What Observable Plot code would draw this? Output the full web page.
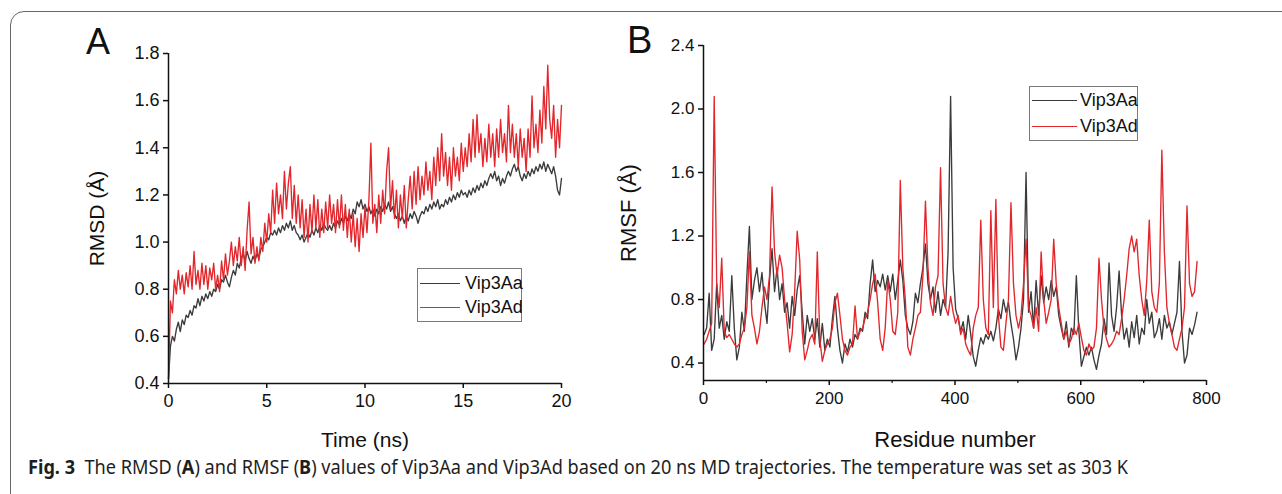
<!DOCTYPE html>
<html><head><meta charset="utf-8">
<script src="https://cdn.jsdelivr.net/npm/d3@7"></script>
<script src="https://cdn.jsdelivr.net/npm/@observablehq/plot@0.6"></script>
<style>
html,body{margin:0;padding:0;background:#fff;}
#fig{position:relative;width:1282px;height:494px;overflow:hidden;background:#fff;font-family:"Liberation Sans",Arial,sans-serif;color:#111;}
#frame{position:absolute;left:10px;top:11px;width:1400px;height:600px;border:1.5px solid #666;border-top-left-radius:14px;box-sizing:border-box;}
.panel{position:absolute;top:0;}
.plabel{position:absolute;font-family:"Liberation Sans",Arial,sans-serif;}
.legend{position:absolute;border:1px solid #7a7a7a;background:#fff;box-sizing:border-box;}
.lrow{position:absolute;left:2px;height:24px;display:flex;align-items:center;font-size:18px;white-space:nowrap;}
.lrow .sw{display:inline-block;height:0;border-top:1.5px solid;}
#caption{position:absolute;left:28px;top:456px;white-space:nowrap;font-family:"Noto Sans","Open Sans",sans-serif;font-size:19px;line-height:22px;transform-origin:0 50%;color:#1e1e1e;}
</style></head>
<body>
<div id="fig">
  <div id="frame"></div>
  <div id="panelA" class="panel" style="left:0"></div>
  <div id="panelB" class="panel" style="left:600px"></div>
  <div class="plabel" style="left:86px;top:24px;font-size:36px;line-height:36px">A</div>
  <div class="plabel" style="left:627px;top:21px;font-size:38px;line-height:38px">B</div>
  <div id="legA" class="legend" style="left:417px;top:268px;width:105px;height:54px"></div>
  <div id="legB" class="legend" style="left:1029px;top:86px;width:109px;height:55px"></div>
  <div id="caption"><b>Fig. 3</b>&nbsp;&nbsp;The RMSD (<b>A</b>) and RMSF (<b>B</b>) values of Vip3Aa and Vip3Ad based on 20 ns MD trajectories. The temperature was set as 303 K</div>
</div>
<script>
// ---------- data ----------
const seriesNames = ["Vip3Aa", "Vip3Ad"];
const seriesColors = ["#3b3b3b", "#e3262b"];

// Panel A: RMSD (Å) vs time (ns), sampled every 0.1 ns from 0 to 20 ns
const timeStep = 0.1;
const rmsdAa = [
 0.42,0.56,0.60,0.58,0.63,0.66,0.62,0.67,0.65,0.69,
 0.68,0.71,0.69,0.73,0.72,0.76,0.73,0.77,0.75,0.78,
 0.76,0.79,0.77,0.80,0.79,0.82,0.80,0.84,0.83,0.86,
 0.83,0.81,0.85,0.88,0.86,0.91,0.89,0.93,0.95,0.92,
 0.96,0.93,0.91,0.94,0.92,0.95,0.93,0.97,0.98,1.00,
 1.02,1.01,1.04,1.03,1.05,1.03,1.06,1.04,1.07,1.05,
 1.08,1.06,1.09,1.05,1.07,1.04,1.03,1.01,1.03,1.00,
 1.02,1.04,1.02,1.05,1.03,1.06,1.04,1.07,1.05,1.08,
 1.06,1.05,1.07,1.05,1.08,1.06,1.09,1.07,1.10,1.08,
 1.11,1.09,1.12,1.10,1.14,1.12,1.17,1.15,1.18,1.14,
 1.16,1.13,1.15,1.12,1.14,1.11,1.14,1.12,1.15,1.13,
 1.16,1.14,1.17,1.13,1.15,1.12,1.10,1.12,1.09,1.11,
 1.08,1.11,1.09,1.12,1.10,1.13,1.11,1.08,1.11,1.13,
 1.12,1.15,1.13,1.16,1.14,1.17,1.15,1.18,1.14,1.16,
 1.15,1.18,1.16,1.19,1.17,1.20,1.18,1.21,1.19,1.22,
 1.20,1.21,1.19,1.22,1.20,1.23,1.21,1.24,1.22,1.25,
 1.23,1.26,1.24,1.27,1.29,1.27,1.30,1.26,1.28,1.24,
 1.27,1.25,1.28,1.30,1.28,1.31,1.33,1.30,1.32,1.28,
 1.26,1.29,1.27,1.30,1.28,1.31,1.29,1.32,1.30,1.33,
 1.31,1.34,1.30,1.33,1.31,1.29,1.32,1.28,1.22,1.20,
 1.27];
const rmsdAd = [
 0.42,0.75,0.70,0.84,0.78,0.88,0.80,0.86,0.78,0.87,
 0.81,0.90,0.80,0.96,0.82,0.88,0.80,0.91,0.82,0.90,
 0.80,0.89,0.84,0.91,0.80,0.86,0.79,0.92,0.84,0.95,
 0.86,0.92,1.00,0.90,0.98,0.92,1.02,0.90,0.98,0.88,
 1.05,1.17,0.95,1.02,0.91,0.98,0.92,1.02,0.96,1.08,
 1.00,1.12,1.04,1.22,1.08,1.25,1.12,1.20,1.10,1.30,
 1.14,1.25,1.32,1.10,1.24,1.08,1.20,1.06,1.18,1.02,
 1.14,1.00,1.16,1.04,1.20,1.06,1.18,1.02,1.14,1.04,
 1.17,1.06,1.20,1.08,1.16,1.04,1.18,1.06,1.20,1.05,
 1.16,1.02,1.14,1.00,1.12,0.98,1.10,0.96,1.12,1.02,
 1.15,1.04,1.18,1.42,1.08,1.16,1.04,1.20,1.08,1.22,
 1.12,1.30,1.40,1.14,1.26,1.10,1.22,1.06,1.20,1.10,
 1.24,1.06,1.18,1.28,1.14,1.30,1.16,1.32,1.18,1.28,
 1.20,1.34,1.22,1.30,1.18,1.36,1.24,1.40,1.26,1.46,
 1.28,1.38,1.24,1.36,1.22,1.40,1.28,1.36,1.26,1.42,
 1.30,1.40,1.32,1.46,1.34,1.52,1.36,1.54,1.38,1.46,
 1.32,1.44,1.34,1.50,1.36,1.46,1.32,1.48,1.36,1.52,
 1.38,1.46,1.34,1.58,1.38,1.50,1.36,1.46,1.32,1.48,
 1.36,1.44,1.30,1.48,1.36,1.62,1.40,1.50,1.38,1.56,
 1.42,1.66,1.48,1.75,1.52,1.44,1.58,1.36,1.52,1.40,
 1.58];

// Panel B: RMSF (Å) vs residue number, sampled every 4 residues from residue 1 to 785
const residueStart = 1, residueStep = 4;
const rmsfAa = [
 0.58,0.62,0.84,0.48,0.55,0.90,0.62,0.70,0.55,0.66,
 0.60,0.95,0.62,0.42,0.50,0.72,0.60,0.95,1.26,0.80,
 0.92,1.00,0.85,0.97,0.78,0.65,0.92,1.12,0.85,1.00,
 0.80,0.90,0.72,0.78,0.62,0.82,0.70,0.86,0.95,0.72,
 0.52,0.70,0.60,0.68,0.55,0.68,0.50,0.65,0.48,0.55,
 0.50,0.68,0.82,0.62,0.48,0.40,0.52,0.47,0.55,0.50,
 0.58,0.55,0.62,0.60,0.72,0.68,0.90,1.05,0.85,0.92,
 0.88,0.96,0.86,0.95,0.85,0.96,0.80,0.92,1.05,0.92,
 0.70,0.62,0.58,0.66,0.84,0.78,0.90,1.00,1.15,0.90,
 0.80,0.88,0.72,0.85,0.70,0.80,0.75,1.10,2.08,1.00,
 0.74,0.68,0.60,0.66,0.55,0.70,0.58,0.44,0.38,0.48,
 0.56,0.52,0.58,0.55,0.60,0.54,0.62,0.74,0.68,0.80,
 0.72,0.78,0.65,0.55,0.42,0.50,0.62,0.80,1.60,0.72,
 0.85,0.62,0.92,0.70,0.95,0.78,0.88,0.80,0.92,0.82,
 0.88,0.70,0.62,0.55,0.66,0.50,0.62,0.58,0.95,0.60,
 0.38,0.44,0.50,0.45,0.50,0.42,0.36,0.45,0.52,0.68,
 0.58,1.03,0.70,0.60,0.75,0.98,0.70,0.55,0.62,0.50,
 0.66,0.56,0.70,0.52,0.62,0.58,0.80,0.65,0.72,0.56,
 0.60,0.68,0.55,0.70,0.62,0.66,0.58,0.65,0.72,1.04,
 0.60,0.40,0.45,0.62,0.58,0.64,0.72];
const rmsfAd = [
 0.52,0.55,0.60,0.65,2.08,0.90,0.75,1.06,0.60,0.56,
 0.58,0.55,0.52,0.50,0.52,0.58,0.62,0.75,1.10,0.70,
 0.62,0.52,0.60,0.75,0.88,0.80,0.95,1.51,1.10,0.95,
 1.08,1.00,0.80,0.65,0.47,0.58,0.85,1.23,1.05,0.60,
 0.42,0.48,0.55,0.58,0.52,1.10,0.55,0.41,0.48,0.52,
 0.55,0.62,0.78,0.84,0.70,0.55,0.48,0.45,0.50,0.52,
 0.76,0.55,0.60,0.62,0.68,0.72,0.80,0.90,0.96,0.78,
 0.55,0.48,0.62,0.92,0.80,0.60,0.58,0.72,1.55,1.00,
 0.80,0.50,0.45,0.55,0.62,0.70,0.72,0.95,1.42,1.00,
 0.78,0.70,0.88,0.95,1.63,0.90,0.75,0.70,0.82,0.72,
 0.65,0.70,0.58,0.62,0.52,0.48,0.45,0.62,0.70,0.75,
 1.30,0.80,0.62,0.58,1.36,0.75,1.43,0.70,0.50,0.48,
 0.65,0.80,1.41,0.90,0.70,0.62,0.70,0.90,1.18,0.75,
 0.70,0.62,0.75,0.60,1.10,0.80,0.65,0.72,0.80,1.18,
 0.90,0.75,0.65,0.55,0.60,0.52,0.55,0.62,0.58,0.65,
 0.56,0.48,0.45,0.52,0.48,0.50,0.62,1.06,0.80,0.62,
 0.55,0.50,0.52,0.55,0.60,0.58,0.68,0.80,0.95,1.12,
 1.20,1.10,1.18,0.95,0.80,0.70,0.92,1.30,0.85,0.75,
 0.72,0.90,1.74,1.10,0.75,0.65,0.58,0.50,0.48,0.55,
 0.62,0.75,1.39,0.90,0.82,0.85,1.04];

// axis ticks
const ticksAx = [0, 5, 10, 15, 20];
const ticksAy = [0.4, 0.6, 0.8, 1.0, 1.2, 1.4, 1.6, 1.8];
const ticksBx = [0, 200, 400, 600, 800];
const ticksBxMinor = [100, 300, 500, 700];
const ticksBy = [0.4, 0.8, 1.2, 1.6, 2.0, 2.4];

// ---------- build rows ----------
const rowsA = [rmsdAa, rmsdAd].map(vals => vals.map((v, i) => ({t: +(i * timeStep).toFixed(2), v})));
const rowsB = [rmsfAa, rmsfAd].map(vals => vals.map((v, i) => ({r: residueStart + i * residueStep, v})));

const font = '"Liberation Sans", Arial, sans-serif';
const axisColor = "#111";
const lw = 1.35;

const plotA = Plot.plot({
  width: 600, height: 460,
  marginLeft: 168, marginRight: 39, marginTop: 53, marginBottom: 77,
  style: {fontFamily: font, fontSize: "18px", color: axisColor, background: "transparent", overflow: "visible"},
  x: {domain: [0, 20]},
  y: {domain: [0.4, 1.8]},
  marks: [
    Plot.line(rowsA[0], {x: "t", y: "v", stroke: seriesColors[0], strokeWidth: lw}),
    Plot.line(rowsA[1], {x: "t", y: "v", stroke: seriesColors[1], strokeWidth: lw}),
    Plot.ruleX([0], {stroke: axisColor, strokeWidth: 1.5}),
    Plot.ruleY([0.4], {stroke: axisColor, strokeWidth: 1.5}),
    Plot.axisX({ticks: ticksAx, tickSize: 5, tickPadding: 6, tickFormat: d => String(d), strokeWidth: 1.5, label: null}),
    Plot.axisY({ticks: ticksAy, tickSize: 5, tickPadding: 4, tickFormat: ".1f", strokeWidth: 1.5, label: null}),
    Plot.axisX({ticks: [], tickSize: 0, fontSize: 21, label: "Time (ns)", labelAnchor: "center", labelOffset: 63, labelArrow: "none"}),
    Plot.axisY({ticks: [], tickSize: 0, fontSize: 21, label: "RMSD (Å)", labelAnchor: "center", labelOffset: 79, labelArrow: "none"})
  ]
});
document.getElementById("panelA").appendChild(plotA);

const plotB = Plot.plot({
  width: 682, height: 460,
  marginLeft: 103, marginRight: 76, marginTop: 45, marginBottom: 80,
  style: {fontFamily: font, fontSize: "17px", color: axisColor, background: "transparent", overflow: "visible"},
  x: {domain: [0, 800]},
  y: {domain: [0.29, 2.4]},
  marks: [
    Plot.line(rowsB[0], {x: "r", y: "v", stroke: seriesColors[0], strokeWidth: lw}),
    Plot.line(rowsB[1], {x: "r", y: "v", stroke: seriesColors[1], strokeWidth: lw}),
    Plot.ruleX([0], {stroke: axisColor, strokeWidth: 1.5}),
    Plot.ruleY([0.29], {stroke: axisColor, strokeWidth: 1.5}),
    Plot.axisX({ticks: ticksBxMinor, tickSize: 3, tickFormat: () => "", strokeWidth: 1.2, label: null}),
    Plot.axisX({ticks: ticksBx, tickSize: 5, tickPadding: 6, tickFormat: d => String(d), strokeWidth: 1.5, label: null}),
    Plot.axisY({ticks: ticksBy, tickSize: 5, tickPadding: 4, tickFormat: ".1f", strokeWidth: 1.5, label: null}),
    Plot.axisX({ticks: [], tickSize: 0, fontSize: 22, label: "Residue number", labelAnchor: "center", labelOffset: 66, labelArrow: "none"}),
    Plot.axisY({ticks: [], tickSize: 0, fontSize: 22, label: "RMSF (Å)", labelAnchor: "center", labelOffset: 83, labelArrow: "none"})
  ]
});
document.getElementById("panelB").appendChild(plotB);

// ---------- legends ----------
function legend(id, tops, swWidth, gap) {
  const box = document.getElementById(id);
  seriesNames.forEach((name, i) => {
    const row = document.createElement("div");
    row.className = "lrow";
    row.style.top = tops[i] + "px";
    const sw = document.createElement("span");
    sw.className = "sw";
    sw.style.width = swWidth + "px";
    sw.style.borderTopColor = seriesColors[i];
    const tx = document.createElement("span");
    tx.textContent = name;
    tx.style.marginLeft = gap + "px";
    row.appendChild(sw); row.appendChild(tx);
    box.appendChild(row);
  });
}
legend("legA", [2, 26], 40, 5);
legend("legB", [1, 27], 45, 3);

// ---------- caption width ----------
const cap = document.getElementById("caption");
const natural = cap.getBoundingClientRect().width;
cap.style.transform = `scaleX(${1100 / natural})`;
</script>
</body></html>
